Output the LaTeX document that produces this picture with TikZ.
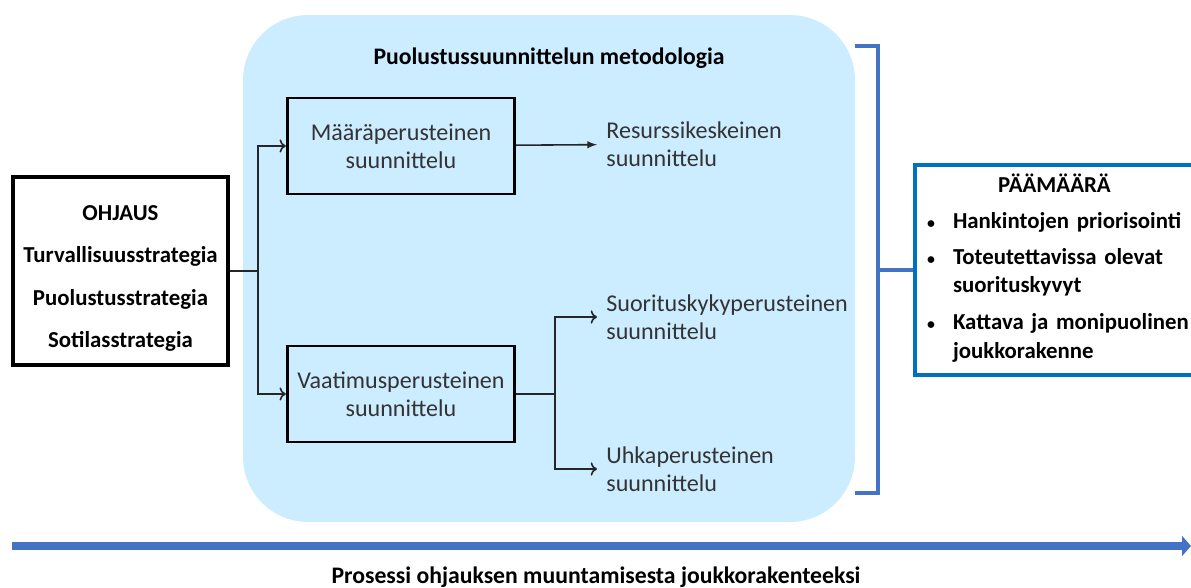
\documentclass[tikz,border=0pt]{standalone}
\usepackage{fontspec}
\setmainfont{Carlito}
\usetikzlibrary{arrows.meta}

\definecolor{bgblue}{RGB}{204,236,255}
\definecolor{bracketblue}{RGB}{68,114,196}
\definecolor{goalblue}{RGB}{0,112,192}

\newcommand{\goalitem}[1]{\par\vspace{4.5pt}\noindent\makebox[0.52cm][l]{\fontsize{9}{9}\selectfont\textbullet}\begin{tabular}[t]{@{}l@{}}#1\end{tabular}}

\tikzstyle{methodbg} = [fill=bgblue, rounded corners=1.3cm, minimum width=12.24cm, minimum height=10.14cm, inner sep=0]
\tikzstyle{planbox} = [draw, line width=1.6pt, minimum width=4.55cm, minimum height=1.92cm, align=center, text=black!80, font={\fontsize{13.7}{15.9}\selectfont}]
\tikzstyle{plantext} = [anchor=west, inner xsep=0.18cm, align=left, text=black!80, font={\fontsize{13.7}{15.9}\selectfont}]
\tikzstyle{ohjbox} = [draw, line width=2.2pt, minimum width=4.3cm, minimum height=3.76cm, align=center, font={\fontsize{13}{24.2}\selectfont\bfseries}]
\tikzstyle{goalbox} = [draw=goalblue, line width=2.2pt, text width=5.1cm, inner xsep=0.24cm, minimum height=4.2cm, font={\fontsize{13}{16}\selectfont\bfseries}]
\tikzstyle{boldlabel} = [font={\fontsize{13.5}{16}\selectfont\bfseries}]
\tikzstyle{conn} = [line width=0.9pt, black!85]
\tikzstyle{bracestyle} = [line width=1.8pt, bracketblue]

\begin{document}
\begin{tikzpicture}[x=0.02cm, y=-0.02cm]
  \useasboundingbox (0,0) rectangle (1191,588);
  \clip (0,0) rectangle (1191,588);

  \node at (549,268.5) [methodbg] (method) {};
  \node at (549,58) [boldlabel] (methodtitle) {Puolustussuunnittelun metodologia};

  \node at (120.5,271) [ohjbox] (ohj) {\rule{0pt}{17pt}OHJAUS\\Turvallisuusstrategia\\Puolustusstrategia\\Sotilasstrategia};

  \node at (401,146) [planbox] (maara) {Määräperusteinen\\suunnittelu};
  \node at (401,394) [planbox] (vaat) {Vaatimusperusteinen\\suunnittelu};

  \node at (597,144) [plantext] (resu) {Resurssikeskeinen\\suunnittelu};
  \node at (597,317) [plantext] (suor) {Suorituskykyperusteinen\\suunnittelu};
  \node at (597,469) [plantext] (uhka) {Uhkaperusteinen\\suunnittelu};

  \node at (1054.5,270) [goalbox] (goal) {{\centering PÄÄMÄÄRÄ\par}
    \goalitem{Hankintojen priorisointi}
    \goalitem{Toteutettavissa olevat\\suorituskyvyt}
    \goalitem{Kattava ja monipuolinen\\joukkorakenne}};

  \coordinate (split1) at (258,271);
  \coordinate (split2) at (555,394);

  \draw[conn] (ohj) -- (split1);
  \draw[conn,->] (split1) |- (maara);
  \draw[conn,->] (split1) |- (vaat);

  \path[conn,-latex] (maara) edge (resu);

  \draw[conn] (vaat) -- (split2);
  \draw[conn,->] (split2) |- (suor);
  \draw[conn,->] (split2) |- (uhka);

  \draw[bracestyle] (855,46) -- (878,46) -- (878,493) -- (855,493);
  \coordinate (bracetip) at (878,270);
  \draw[bracestyle] (bracetip) -- (goal);

  \coordinate (pstart) at (12,546);
  \coordinate (pend) at (1191,546);
  \draw[bracketblue, line width=4.5pt, -{Triangle[length=5pt,width=11pt]}] (pstart) -- (pend);
  \node at (596,577) [boldlabel] (proclabel) {Prosessi ohjauksen muuntamisesta joukkorakenteeksi};
\end{tikzpicture}
\end{document}
